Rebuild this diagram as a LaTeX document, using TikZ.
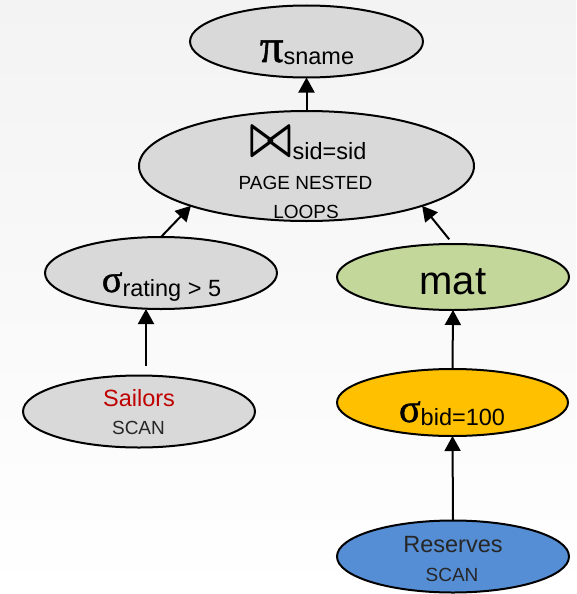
\documentclass[tikz,border=0pt]{standalone}
\usepackage{fontspec}
\setmainfont{Liberation Sans}
\newfontfamily\greekfont[FakeBold=1.2]{Liberation Serif}
\usetikzlibrary{shapes.geometric,arrows.meta}
\definecolor{opgray}{HTML}{D9D9D9}
\definecolor{matgreen}{HTML}{C4D79B}
\definecolor{selgold}{HTML}{FFC000}
\definecolor{scanblue}{HTML}{558ED5}
\definecolor{relred}{HTML}{C00000}
\definecolor{scangray}{HTML}{262626}
\definecolor{bgtop}{HTML}{F3F3F3}
% text sizes used in the plan
\newcommand{\subtxt}{\fontsize{23.5}{28}\selectfont}
\newcommand{\captxt}{\fontsize{19}{23}\selectfont}
% operator symbol: glyph, ink height, raise above baseline
\newcommand{\opsym}[3]{\raisebox{#3}{\resizebox*{!}{#2}{\greekfont #1}}}
\begin{document}
\begin{tikzpicture}[x=1pt,y=-1pt,
  op/.style={ellipse,draw,line width=2pt,inner sep=0pt,outer sep=0pt,fill=opgray},
  arr/.style={line width=2pt,-{Triangle[length=15pt,width=16pt]}},
  lbl/.style={inner sep=0pt,anchor=base}]
  \shade[top color=bgtop,bottom color=white] (0,0) rectangle (576,594);
  \useasboundingbox (0,0) rectangle (576,594);

  % projection
  \node[op,minimum width=233pt,minimum height=72pt] (pi) at (306.5,41.5) {};
  \node[lbl] (pilbl) at (307,65) {\opsym{π}{22pt}{3pt}\subtxt sname};

  % join
  \node[op,minimum width=335pt,minimum height=110pt] (join) at (306.5,166) {};
  \node[lbl] (joinlbl) at (308,159) {\raisebox{4pt}{\resizebox*{43pt}{27pt}{\boldmath$\bowtie$}}\subtxt sid=sid};
  \node[lbl] (joinmeth) at (305.5,189) {\captxt PAGE NESTED};
  \node[lbl] (joinmeth2) at (306,218) {\captxt LOOPS};

  % selection on Sailors
  \node[op,minimum width=232pt,minimum height=72pt] (sr) at (161,273) {};
  \node[lbl] (srlbl) at (161.5,296) {\opsym{σ}{20pt}{4pt}\subtxt rating > 5};

  % materialize
  \node[op,fill=matgreen,minimum width=232pt,minimum height=66pt] (mat) at (453,277) {};
  \node[lbl] (matlbl) at (453,294) {\fontsize{40}{44}\selectfont mat};

  % selection on Reserves
  \node[op,fill=selgold,minimum width=231pt,minimum height=67pt] (sb) at (452.5,402.5) {};
  \node[lbl] (sblbl) at (452,425) {\opsym{σ}{21pt}{3pt}\subtxt bid=100};

  % base relations
  \node[op,minimum width=232pt,minimum height=72pt] (sailors) at (139,411.5) {};
  \node[lbl,text=relred] (sailorsname) at (139,406) {\subtxt Sailors};
  \node[lbl,text=scangray] (sailorsscan) at (138.5,434) {\captxt SCAN};

  \node[op,fill=scanblue,minimum width=232pt,minimum height=72pt] (res) at (453,556.5) {};
  \node[lbl,text=scangray] (resname) at (453,552) {\subtxt Reserves};
  \node[lbl,text=scangray] (resscan) at (452,581) {\captxt SCAN};

  % data flow
  \draw[arr] (join.north) -- (pi.south);
  \draw[arr] (sr.north) -- (join.199);
  \draw[arr,shorten <=6pt] (mat.north) -- (join.341);
  \draw[arr,shorten <=10pt] ([xshift=7pt]sailors.north) -- ([xshift=7pt]sailors.north |- sr.south);
  \draw[arr] (sb.north) -- (mat.south);
  \draw[arr] (res.north) -- (sb.south);
\end{tikzpicture}
\end{document}
